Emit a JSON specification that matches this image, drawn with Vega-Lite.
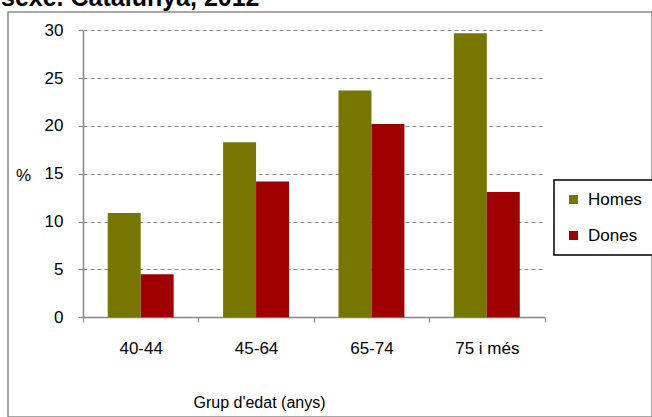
{
  "$schema": "https://vega.github.io/schema/vega-lite/v6.json",
  "autosize": "none",
  "padding": {"left": 8, "top": 12, "right": 0, "bottom": 0},
  "width": 644,
  "height": 405,
  "title": {
    "text": "sexe. Catalunya, 2012",
    "anchor": "start",
    "frame": "group",
    "orient": "top",
    "baseline": "alphabetic",
    "offset": 0,
    "dx": -7,
    "dy": 19,
    "font": "Liberation Sans",
    "fontSize": 25,
    "fontWeight": "bold",
    "color": "#000000"
  },
  "data": {
    "values": [
      {"grup": "40-44", "sexe": "Homes", "pct": 10.9},
      {"grup": "40-44", "sexe": "Dones", "pct": 4.5},
      {"grup": "45-64", "sexe": "Homes", "pct": 18.3},
      {"grup": "45-64", "sexe": "Dones", "pct": 14.2},
      {"grup": "65-74", "sexe": "Homes", "pct": 23.7},
      {"grup": "65-74", "sexe": "Dones", "pct": 20.2},
      {"grup": "75 i més", "sexe": "Homes", "pct": 29.7},
      {"grup": "75 i més", "sexe": "Dones", "pct": 13.1}
    ]
  },
  "mark": {"type": "bar"},
  "encoding": {
    "x": {
      "field": "grup",
      "type": "nominal",
      "sort": ["40-44", "45-64", "65-74", "75 i més"],
      "scale": {"range": [75, 536.5], "paddingInner": 0, "paddingOuter": 0},
      "axis": {
        "title": "Grup d'edat (anys)",
        "orient": "bottom",
        "offset": -100,
        "labelAngle": 0,
        "tickBand": "extent",
        "tickSize": 5,
        "labelPadding": 18,
        "labelFontSize": 17,
        "titleX": 251,
        "titleY": 85,
        "titleAlign": "center",
        "titleBaseline": "middle",
        "titleFontSize": 16,
        "grid": false
      }
    },
    "xOffset": {
      "field": "sexe",
      "type": "nominal",
      "sort": ["Homes", "Dones"],
      "scale": {"paddingInner": 0, "paddingOuter": 0.75}
    },
    "y": {
      "field": "pct",
      "type": "quantitative",
      "scale": {"domain": [0, 30], "range": [305.3, 18.3], "nice": false, "zero": true},
      "axis": {
        "title": "%",
        "orient": "left",
        "offset": -75,
        "values": [0, 5, 10, 15, 20, 25, 30],
        "tickSize": 5,
        "labelPadding": 15,
        "labelFontSize": 17,
        "titleAngle": 0,
        "titleX": -60,
        "titleY": 163,
        "titleAlign": "center",
        "titleBaseline": "middle",
        "titleFontSize": 17,
        "grid": true,
        "gridDash": [4, 3],
        "gridColor": "#878787",
        "gridWidth": 1.2
      }
    },
    "color": {
      "field": "sexe",
      "type": "nominal",
      "sort": ["Homes", "Dones"],
      "scale": {"domain": ["Homes", "Dones"], "range": ["#767600", "#A00000"]},
      "legend": {
        "title": null,
        "orient": "none",
        "legendX": 546,
        "legendY": 168,
        "direction": "vertical",
        "symbolType": "square",
        "symbolSize": 81,
        "symbolStrokeWidth": 0,
        "symbolOpacity": 1,
        "labelFontSize": 17,
        "labelFont": "Liberation Sans",
        "labelColor": "#000000",
        "labelOffset": 6,
        "rowPadding": 18,
        "padding": 11,
        "strokeColor": "#000000",
        "fillColor": "#ffffff"
      }
    }
  },
  "config": {
    "view": {"stroke": "#8a8a8a", "strokeWidth": 1.5},
    "legend": {"strokeWidth": 1.5},
    "axis": {
      "labelFont": "Liberation Sans",
      "labelFontSize": 15,
      "labelColor": "#000000",
      "titleFont": "Liberation Sans",
      "titleFontSize": 15,
      "titleFontWeight": "normal",
      "titleColor": "#000000",
      "domainColor": "#878787",
      "domainWidth": 1.5,
      "tickColor": "#878787",
      "tickWidth": 1.2
    }
  }
}
